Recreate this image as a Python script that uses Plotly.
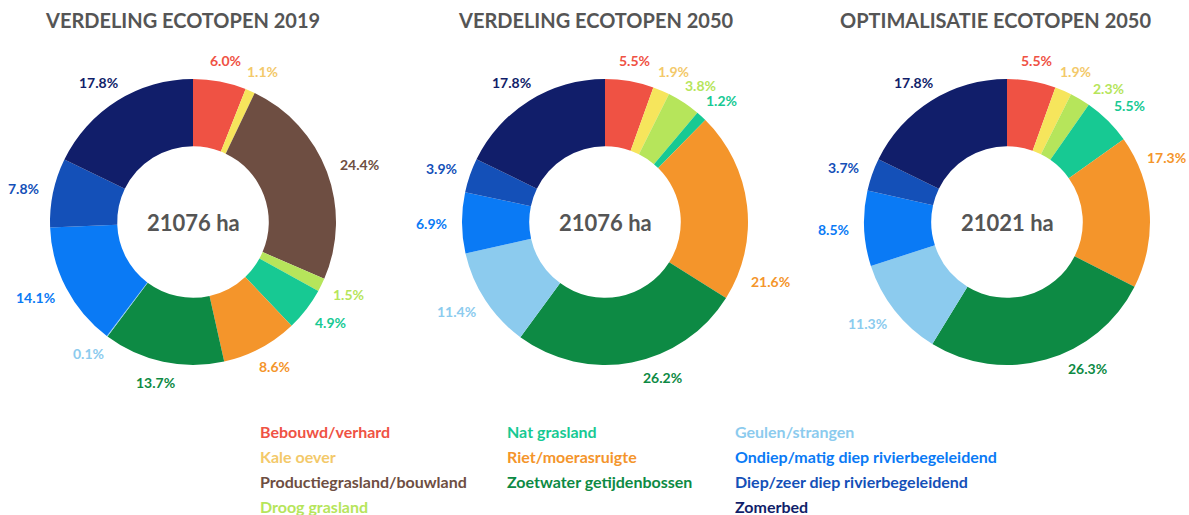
import math
import plotly.graph_objects as go

# Ecotope categories and their colours
categories = [
    "Bebouwd/verhard", "Kale oever", "Productiegrasland/bouwland", "Droog grasland",
    "Nat grasland", "Riet/moerasruigte", "Zoetwater getijdenbossen", "Geulen/strangen",
    "Ondiep/matig diep rivierbegeleidend", "Diep/zeer diep rivierbegeleidend", "Zomerbed",
]
colors = [
    "#EF5244", "#F6E55C", "#6E4E42", "#B6E55B",
    "#17C993", "#F4952B", "#0D8A44", "#8CCBEE",
    "#0A7AF5", "#1450B8", "#111E6A",
]
label_colors = [
    "#EF5244", "#F3C96A", "#6E4E42", "#B6E55B",
    "#17C993", "#F4952B", "#0D8A44", "#8CCBEE",
    "#0A7AF5", "#1450B8", "#111E6A",
]

# Shares (%) per chart
share_2019 = [6.0, 1.1, 24.4, 1.5, 4.9, 8.6, 13.7, 0.1, 14.1, 7.8, 17.8]
share_2050 = [5.5, 1.9, 0.0, 3.8, 1.2, 21.6, 26.2, 11.4, 6.9, 3.9, 17.8]
share_opt = [5.5, 1.9, 0.0, 2.3, 5.5, 17.3, 26.3, 11.3, 8.5, 3.7, 17.8]

titles = ["VERDELING ECOTOPEN 2019", "VERDELING ECOTOPEN 2050", "OPTIMALISATIE ECOTOPEN 2050"]
totals = ["21076 ha", "21076 ha", "21021 ha"]

W, H = 1189, 515
centers_px = [193, 605, 1007]
radius_px = 143
cy_px = 222
title_x_px = [182, 595, 995]
label_size = 14
label_ring = radius_px + 14

# Angular shifts (degrees) for a few labels that sit away from their slice's middle
label_shift_deg = {(1, 5): 28, (1, 6): -8, (2, 3): 5, (2, 5): -19, (2, 6): -11}

fig = go.Figure()
for i, vals in enumerate([share_2019, share_2050, share_opt]):
    cx = centers_px[i]
    fig.add_trace(go.Pie(
        labels=categories,
        values=vals,
        textinfo="none",
        marker=dict(colors=colors, line=dict(width=0)),
        hole=0.53,
        sort=False,
        direction="clockwise",
        rotation=0,
        showlegend=False,
        hoverinfo="label+percent",
        domain=dict(
            x=[(cx - radius_px) / W, (cx + radius_px) / W],
            y=[1 - (cy_px + radius_px) / H, 1 - (cy_px - radius_px) / H],
        ),
    ))

    # Percentage labels just outside each slice
    total = sum(vals)
    cum = 0.0
    for k, v in enumerate(vals):
        if v <= 0:
            continue
        mid_deg = (cum + v / 2) / total * 360 + label_shift_deg.get((i, k), 0)
        cum += v
        mid = math.radians(mid_deg)
        txt = f"{v:.1f}%"
        half_w = len(txt) * label_size * 0.29
        half_h = label_size * 0.5
        s, c = math.sin(mid), math.cos(mid)
        lx = cx + label_ring * s + s * half_w
        ly = cy_px - label_ring * c - c * half_h
        lx = min(lx, W - half_w - 2)
        fig.add_annotation(
            x=lx / W, y=1 - ly / H, xref="paper", yref="paper",
            xanchor="center", yanchor="middle",
            text=f"<b>{txt}</b>", showarrow=False,
            font=dict(family="Lato", size=label_size, color=label_colors[k]),
        )

    fig.add_annotation(
        x=cx / W, y=1 - cy_px / H, xref="paper", yref="paper",
        xanchor="center", yanchor="middle",
        text=f"<b>{totals[i]}</b>", showarrow=False,
        font=dict(family="Lato", size=22, color="#555555"),
    )
    fig.add_annotation(
        x=title_x_px[i] / W, y=1 - 20 / H, xref="paper", yref="paper",
        xanchor="center", yanchor="middle",
        text=f"<b>{titles[i]}</b>", showarrow=False,
        font=dict(family="Lato", size=20, color="#555555"),
    )

# Legend drawn as coloured text in three columns
legend_cols = [[0, 1, 2, 3], [4, 5, 6], [7, 8, 9, 10]]
legend_x_px = [258, 505, 733]
legend_y_px = [431, 456, 481, 506]
for col, idxs in enumerate(legend_cols):
    for row, k in enumerate(idxs):
        fig.add_annotation(
            x=legend_x_px[col] / W, y=1 - legend_y_px[row] / H,
            xref="paper", yref="paper", xanchor="left", yanchor="middle",
            text=f"<b>{categories[k]}</b>", showarrow=False,
            font=dict(family="Lato", size=16, color=label_colors[k]),
        )

fig.update_layout(
    width=W, height=H,
    margin=dict(l=0, r=0, t=0, b=0),
    paper_bgcolor="white", plot_bgcolor="white",
)
fig.write_html("out.html")
